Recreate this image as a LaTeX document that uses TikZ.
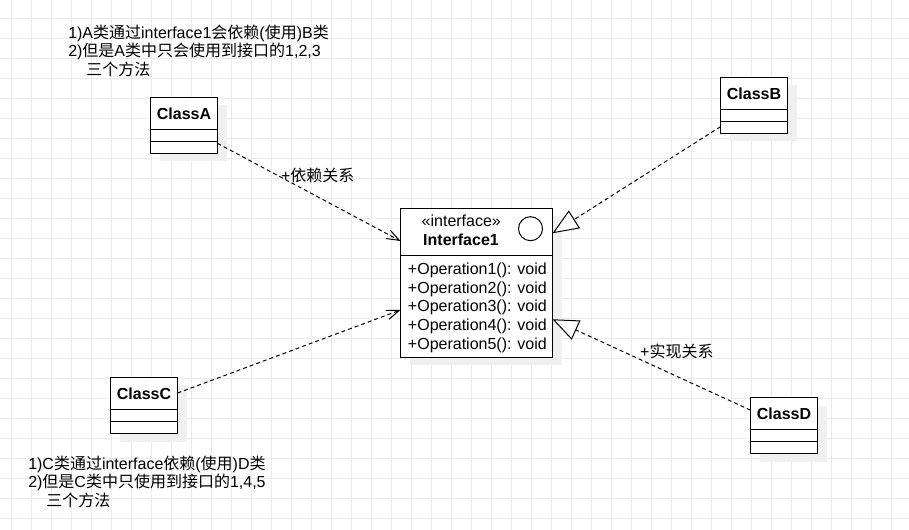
\documentclass[tikz,border=0pt]{standalone}
\usepackage{fontspec}
\setmainfont{Liberation Sans}
\newfontfamily\cjk{Noto Sans CJK SC}
\usetikzlibrary{arrows.meta,calc}
\definecolor{gridgray}{RGB}{235,235,235}
\definecolor{shadowgray}{RGB}{240,240,240}
\pgfdeclarelayer{gridlayer}
\pgfdeclarelayer{shadowlayer}
\pgfsetlayers{gridlayer,shadowlayer,main}

\begin{document}
\begin{tikzpicture}[x=0.75pt,y=-0.75pt]
  % Styling
  \tikzset{
    umlbox/.style={
      rectangle,
      draw=black,
      line width=0.75pt,
      fill=white,
      inner sep=0pt,
      outer sep=0pt
    },
    classbox/.style={
      umlbox,
      minimum width=50.25pt,
      minimum height=42pt
    },
    className/.style={
      inner sep=0pt,
      font=\fontsize{12pt}{14pt}\selectfont\bfseries
    },
    divider/.style={
      line width=0.75pt,
      black
    },
    depend/.style={
      -{Straight Barb[length=9.4pt,width=7pt]},
      line width=0.75pt,
      dash pattern=on 3pt off 2.25pt,
      black
    },
    realize/.style={
      -{Triangle[length=19.5pt,width=15.75pt,fill=white]},
      line width=0.75pt,
      dash pattern=on 3pt off 2.25pt,
      black
    },
    label/.style={
      inner sep=0pt,
      font=\fontsize{12pt}{14pt}\selectfont,
      black
    },
    note/.style={
      align=left,
      inner sep=0pt,
      font=\fontsize{12pt}{13.9pt}\selectfont,
      black
    }
  }

  % ===== Background grid =====
  \useasboundingbox (0,0) rectangle (909,530);
  \begin{pgfonlayer}{gridlayer}
    \fill[white] (0,0) rectangle (909,530);
    \foreach \gx in {0,...,44}
      \draw[gridgray, line width=0.75pt] (11.5+20*\gx,0) -- (11.5+20*\gx,530);
    \foreach \gy in {0,...,25}
      \draw[gridgray, line width=0.75pt] (0,18.5+20*\gy) -- (909,18.5+20*\gy);
  \end{pgfonlayer}

  % ===== Interface1 =====
  \node[umlbox, minimum width=114pt, minimum height=111.75pt] (iface) at (476.5,283) {};
  \draw[divider] ($(iface.north west)+(0,47)$) -- ($(iface.north east)+(0,47)$);
  \node[label] (stereo) at (461.3,220.7) {«interface»};
  \node[className] (ifaceName) at (461,239.3) {Interface1};
  \node[circle, draw=black, line width=0.75pt, minimum size=18pt, inner sep=0pt] (lollipop) at (530.5,228.7) {};
  % Operations
  \node[note, font=\fontsize{12pt}{13.95pt}\selectfont, anchor=north west] (ops) at (407.7,262.8)
    {+Operation1(): void\\+Operation2(): void\\+Operation3(): void\\+Operation4(): void\\+Operation5(): void};

  % Arrow end points on the interface
  \coordinate (ifA) at ([yshift=31.5pt]iface.west);
  \coordinate (ifC) at ([yshift=-20.25pt]iface.west);
  \coordinate (ifB) at ([yshift=37.3pt]iface.east);
  \coordinate (ifD) at ([yshift=-27.2pt]iface.east);

  % ===== ClassA =====
  \node[classbox] (classA) at (184,125.5) {};
  \node[className] (classAName) at ($(classA.north)+(0,16)$) {ClassA};
  \draw[divider] ($(classA.north west)+(0,32)$) -- ($(classA.north east)+(0,32)$);
  \draw[divider] ($(classA.north west)+(0,44)$) -- ($(classA.north east)+(0,44)$);

  % ===== ClassB =====
  \node[classbox] (classB) at (754,105.5) {};
  \node[className] (classBName) at ($(classB.north)+(0,16)$) {ClassB};
  \draw[divider] ($(classB.north west)+(0,32)$) -- ($(classB.north east)+(0,32)$);
  \draw[divider] ($(classB.north west)+(0,44)$) -- ($(classB.north east)+(0,44)$);

  % ===== ClassC =====
  \node[classbox] (classC) at (144,405.5) {};
  \node[className] (classCName) at ($(classC.north)+(0,16)$) {ClassC};
  \draw[divider] ($(classC.north west)+(0,32)$) -- ($(classC.north east)+(0,32)$);
  \draw[divider] ($(classC.north west)+(0,44)$) -- ($(classC.north east)+(0,44)$);

  % ===== ClassD =====
  \node[classbox] (classD) at (784,425.5) {};
  \node[className] (classDName) at ($(classD.north)+(0,16)$) {ClassD};
  \draw[divider] ($(classD.north west)+(0,32)$) -- ($(classD.north east)+(0,32)$);
  \draw[divider] ($(classD.north west)+(0,44)$) -- ($(classD.north east)+(0,44)$);

  % Shadows under the boxes
  \begin{pgfonlayer}{shadowlayer}
    \foreach \shadowof in {iface,classA,classB,classC,classD}
      \fill[shadowgray] ($(\shadowof.north west)+(9,8)$) rectangle ($(\shadowof.south east)+(9,8)$);
  \end{pgfonlayer}

  % ===== Relations =====
  \draw[depend] (classA) -- node[label, pos=0.548, yshift=16.3pt] (lblDepend) {+{\cjk 依赖关系}} (ifA);
  \draw[depend] (classC) -- (ifC);
  \draw[realize] (classB) -- (ifB);
  \draw[realize] (classD) -- node[label, pos=0.372, yshift=18.75pt] (lblRealize) {+{\cjk 实现关系}} (ifD);

  % ===== Notes =====
  \node[note, anchor=north west] (noteA) at (68,24.5)
    {1)A{\cjk 类通过}interface1{\cjk 会依赖}({\cjk 使用})B{\cjk 类}\\
     2){\cjk 但是}A{\cjk 类中只会使用到接口的}1,2,3\\
     \hspace*{13.5pt}{\cjk 三个方法}};
  \node[note, anchor=north west] (noteC) at (28,455.7)
    {1)C{\cjk 类通过}interface{\cjk 依赖}({\cjk 使用})D{\cjk 类}\\
     2){\cjk 但是}C{\cjk 类中只使用到接口的}1,4,5\\
     \hspace*{13.5pt}{\cjk 三个方法}};

\end{tikzpicture}
\end{document}
